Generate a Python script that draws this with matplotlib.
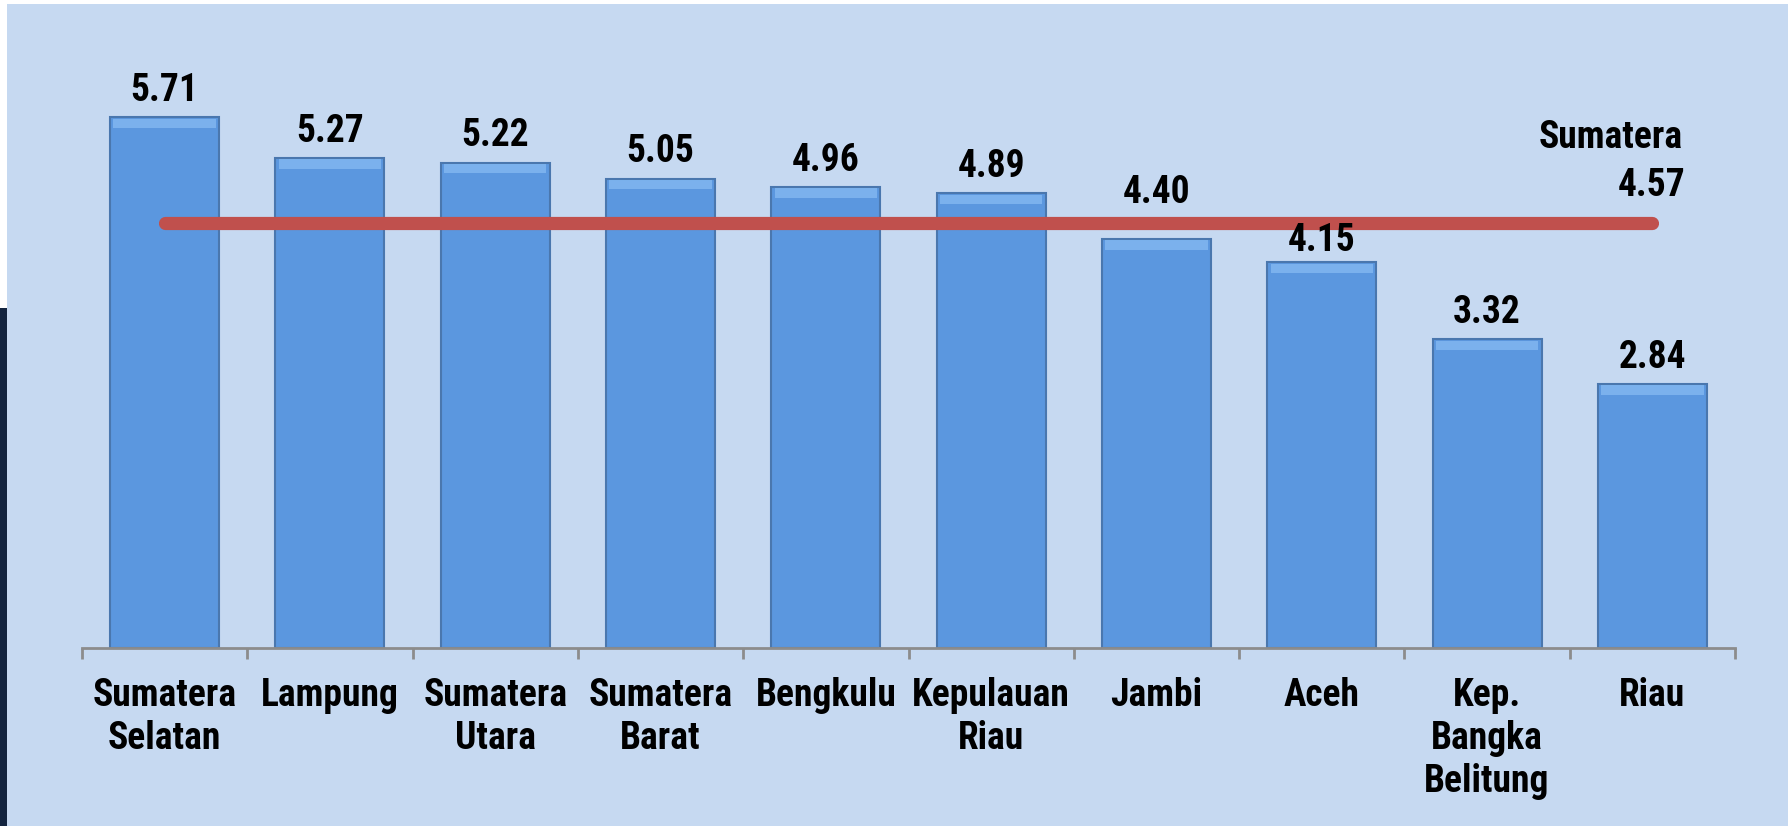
import matplotlib
matplotlib.use("Agg")
import matplotlib.pyplot as plt
from matplotlib.patches import Rectangle
import numpy as np

# data
provinces = ["Sumatera\nSelatan", "Lampung", "Sumatera\nUtara", "Sumatera\nBarat", "Bengkulu",
             "Kepulauan\nRiau", "Jambi", "Aceh", "Kep.\nBangka\nBelitung", "Riau"]
values = [5.71, 5.27, 5.22, 5.05, 4.96, 4.89, 4.40, 4.15, 3.32, 2.84]
sumatera_label = "Sumatera"
sumatera_avg = 4.57

BG, NAVY, BAR, BAR_EDGE, BAR_TOP, RED = "#C6D9F1", "#13243F", "#5B97DF", "#4A77AE", "#86BBF2", "#C0504D"

plt.rcParams["font.family"] = ["Roboto Condensed", "Liberation Sans", "DejaVu Sans"]
plt.rcParams["font.weight"] = "bold"

W, H = 1788, 826
fig = plt.figure(figsize=(W / 100, H / 100), dpi=100, facecolor="white")
fig.patches.append(Rectangle((7 / W, 0), 1 - 7 / W, (H - 4) / H, transform=fig.transFigure,
                             facecolor=BG, edgecolor="none", zorder=-10))
fig.patches.append(Rectangle((0, 0), 7 / W, (H - 308) / H, transform=fig.transFigure,
                             facecolor=NAVY, edgecolor="none", zorder=-10))

ax = fig.add_axes([82 / W, (H - 648) / H, (1735 - 82) / W, (648 - 40) / H])
ax.set_facecolor("none")
x = np.arange(len(values))
vals = np.array(values)
ax.bar(x, vals, width=0.66, color=BAR, edgecolor=BAR_EDGE, linewidth=1.5, zorder=2)
# light bevel along the top of each bar
bevel = 0.1
ax.bar(x, np.full_like(vals, bevel), bottom=vals - bevel - 0.015, width=0.62, color=BAR_TOP,
       edgecolor="none", alpha=0.75, zorder=3)

# labels near the average line are nudged off it, as in the original slide
nudge = {6: 14, 7: -3.5}
for i, (xi, v) in enumerate(zip(x, values)):
    ax.annotate(f"{v:.2f}", (xi, v), xytext=(0, 6 + nudge.get(i, 0)), textcoords="offset points",
                ha="center", va="bottom", fontsize=27, fontweight="bold", zorder=6)

ax.plot([x[0], x[-1]], [sumatera_avg, sumatera_avg], color=RED, lw=9.5,
        solid_capstyle="round", zorder=4)
ax.annotate(sumatera_label, (x[-1], sumatera_avg), xytext=(22, 62), textcoords="offset points",
            ha="right", va="center", fontsize=27, fontweight="bold")
ax.annotate(f"{sumatera_avg:.2f}", (x[-1], sumatera_avg), xytext=(24, 27), textcoords="offset points",
            ha="right", va="center", fontsize=27, fontweight="bold")

ax.set_xlim(-0.5, len(values) - 0.5)
ax.set_ylim(0, 6.54)
ax.set_yticks([])
for s in ["top", "right", "left"]:
    ax.spines[s].set_visible(False)
ax.spines["bottom"].set_color("#8C8C8C")
ax.spines["bottom"].set_linewidth(2)
ax.set_xticks(x)
ax.set_xticklabels(provinces, fontsize=27, fontweight="bold", linespacing=1.2)
ax.tick_params(axis="x", which="major", length=0, pad=21)
ax.set_xticks(np.arange(len(values) + 1) - 0.5, minor=True)
ax.tick_params(axis="x", which="minor", length=8, width=2, color="#8C8C8C", direction="out")

fig.savefig("out.png", dpi=100, facecolor=fig.get_facecolor())
